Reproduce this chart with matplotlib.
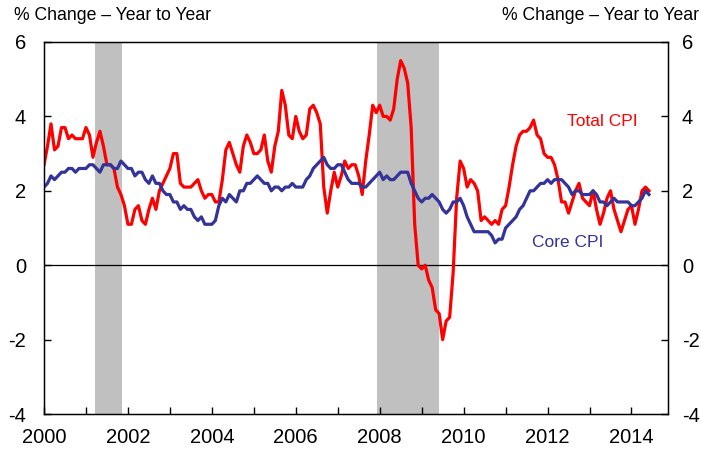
import numpy as np
import matplotlib
matplotlib.use("Agg")
import matplotlib.pyplot as plt
from matplotlib.ticker import MultipleLocator

plt.rcParams['font.family'] = ['Liberation Sans', 'DejaVu Sans']
plt.rcParams['axes.unicode_minus'] = False

# monthly year-over-year % change, Jan 2000 - Jun 2014
total_cpi = [
    2.7, 3.2, 3.8, 3.1, 3.2, 3.7, 3.7, 3.4, 3.5, 3.4, 3.4, 3.4,   # 2000
    3.7, 3.5, 2.9, 3.3, 3.6, 3.2, 2.7, 2.7, 2.6, 2.1, 1.9, 1.6,   # 2001
    1.1, 1.1, 1.5, 1.6, 1.2, 1.1, 1.5, 1.8, 1.5, 2.0, 2.2, 2.4,   # 2002
    2.6, 3.0, 3.0, 2.2, 2.1, 2.1, 2.1, 2.2, 2.3, 2.0, 1.8, 1.9,   # 2003
    1.9, 1.7, 1.7, 2.3, 3.1, 3.3, 3.0, 2.7, 2.5, 3.2, 3.5, 3.3,   # 2004
    3.0, 3.0, 3.1, 3.5, 2.8, 2.5, 3.2, 3.6, 4.7, 4.3, 3.5, 3.4,   # 2005
    4.0, 3.6, 3.4, 3.5, 4.2, 4.3, 4.1, 3.8, 2.1, 1.4, 2.0, 2.5,   # 2006
    2.1, 2.4, 2.8, 2.6, 2.7, 2.7, 2.4, 1.9, 2.8, 3.5, 4.3, 4.1,   # 2007
    4.3, 4.0, 4.0, 3.9, 4.2, 5.0, 5.5, 5.3, 4.9, 3.7, 1.1, 0.0,   # 2008
    -0.1, 0.0, -0.4, -0.6, -1.2, -1.3, -2.0, -1.5, -1.4, -0.2, 1.8, 2.8,  # 2009
    2.6, 2.1, 2.3, 2.2, 2.0, 1.2, 1.3, 1.2, 1.1, 1.2, 1.1, 1.5,   # 2010
    1.6, 2.1, 2.7, 3.2, 3.5, 3.6, 3.6, 3.7, 3.9, 3.5, 3.4, 3.0,   # 2011
    2.9, 2.9, 2.7, 2.3, 1.7, 1.7, 1.4, 1.7, 2.0, 2.2, 1.8, 1.7,   # 2012
    1.6, 2.0, 1.5, 1.1, 1.4, 1.8, 2.0, 1.5, 1.2, 0.9, 1.2, 1.5,   # 2013
    1.6, 1.1, 1.5, 2.0, 2.1, 2.0,                                 # 2014
]
core_cpi = [
    2.1, 2.2, 2.4, 2.3, 2.4, 2.5, 2.5, 2.6, 2.6, 2.5, 2.6, 2.6,   # 2000
    2.6, 2.7, 2.7, 2.6, 2.5, 2.7, 2.7, 2.7, 2.6, 2.6, 2.8, 2.7,   # 2001
    2.6, 2.6, 2.4, 2.5, 2.5, 2.3, 2.2, 2.4, 2.2, 2.2, 2.0, 1.9,   # 2002
    1.9, 1.7, 1.7, 1.5, 1.6, 1.5, 1.5, 1.3, 1.2, 1.3, 1.1, 1.1,   # 2003
    1.1, 1.2, 1.6, 1.8, 1.7, 1.9, 1.8, 1.7, 2.0, 2.0, 2.2, 2.2,   # 2004
    2.3, 2.4, 2.3, 2.2, 2.2, 2.0, 2.1, 2.1, 2.0, 2.1, 2.1, 2.2,   # 2005
    2.1, 2.1, 2.1, 2.3, 2.4, 2.6, 2.7, 2.8, 2.9, 2.7, 2.6, 2.6,   # 2006
    2.7, 2.7, 2.5, 2.3, 2.2, 2.2, 2.2, 2.1, 2.1, 2.2, 2.3, 2.4,   # 2007
    2.5, 2.3, 2.4, 2.3, 2.3, 2.4, 2.5, 2.5, 2.5, 2.2, 2.0, 1.8,   # 2008
    1.7, 1.8, 1.8, 1.9, 1.8, 1.7, 1.5, 1.4, 1.5, 1.7, 1.7, 1.8,   # 2009
    1.6, 1.3, 1.1, 0.9, 0.9, 0.9, 0.9, 0.9, 0.8, 0.6, 0.7, 0.7,   # 2010
    1.0, 1.1, 1.2, 1.3, 1.5, 1.6, 1.8, 2.0, 2.0, 2.1, 2.2, 2.2,   # 2011
    2.3, 2.2, 2.3, 2.3, 2.3, 2.2, 2.1, 1.9, 2.0, 2.0, 1.9, 1.9,   # 2012
    1.9, 2.0, 1.9, 1.7, 1.7, 1.6, 1.7, 1.8, 1.7, 1.7, 1.7, 1.7,   # 2013
    1.6, 1.6, 1.7, 1.8, 2.0, 1.9,                                 # 2014
]
dates = 2000 + np.arange(len(total_cpi)) / 12.0

recessions = [(2001.21, 2001.86), (2007.93, 2009.42)]
year_ticks = list(range(2000, 2015))
year_labels = [str(y) if y % 2 == 0 else "" for y in year_ticks]

fig = plt.figure(figsize=(7.01, 4.49), dpi=100)
ax = fig.add_axes([44 / 701, 35 / 449, 624 / 701, 372 / 449])

for start, end in recessions:
    ax.axvspan(start, end, color="#c0c0c0", lw=0, zorder=0)

ax.axhline(0, color="black", lw=0.9, zorder=1)
ax.plot(dates, core_cpi, color="#333399", lw=2.3, zorder=3)
ax.plot(dates, total_cpi, color="#ff0000", lw=2.3, zorder=2)

ax.set_xlim(2000, 2014.87)
ax.set_ylim(-4, 6)
ax.set_xticks(year_ticks)
ax.set_xticklabels(year_labels)
ax.yaxis.set_major_locator(MultipleLocator(2))

for s in ax.spines.values():
    s.set_linewidth(1.0)
    s.set_color("black")

ax.tick_params(axis="x", direction="in", length=5, width=1, labelsize=14.5, pad=10)
ax.tick_params(axis="y", direction="in", length=5, width=1, labelsize=14.5, pad=13)

# right-hand copy of the y axis
ax2 = ax.twinx()
ax2.set_ylim(ax.get_ylim())
ax2.yaxis.set_major_locator(MultipleLocator(2))
ax2.tick_params(axis="y", direction="in", length=5, width=1, labelsize=14.5, pad=10)

ax.text(2012.46, 3.86, "Total CPI", color="#ff0000", fontsize=12.5, va="center", ha="left")
ax.text(2011.62, 0.6, "Core CPI", color="#333399", fontsize=12.5, va="center", ha="left")

fig.text(14 / 701, 1 - 15 / 449, "% Change – Year to Year", fontsize=12.7, ha="left", va="center")
fig.text(699 / 701, 1 - 15 / 449, "% Change – Year to Year", fontsize=12.7, ha="right", va="center")

fig.savefig("out.png", dpi=100)
